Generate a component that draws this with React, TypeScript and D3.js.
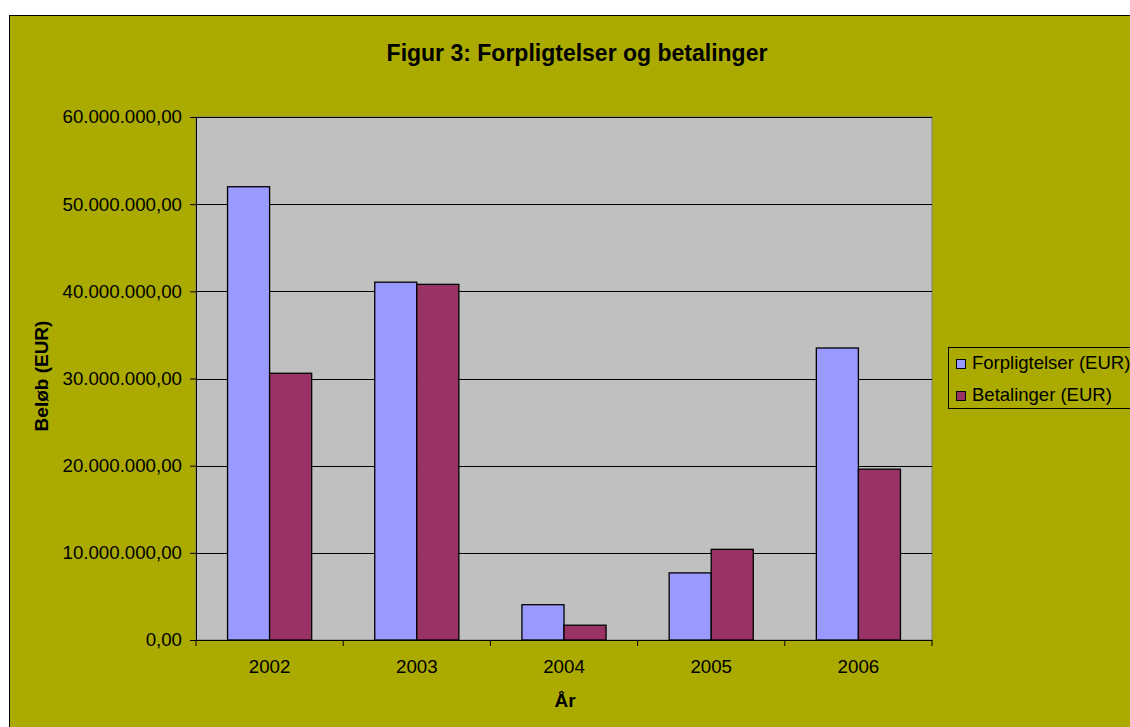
import React, { useEffect, useRef } from 'react';
import * as d3 from 'd3';

const years = ['2002', '2003', '2004', '2005', '2006'];
const forpligtelser = [52000000, 41050000, 4050000, 7700000, 33500000];
const betalinger = [30600000, 40800000, 1700000, 10400000, 19600000];
const seriesNames = ['Forpligtelser (EUR)', 'Betalinger (EUR)'];
const seriesColors = ['#9999FF', '#993366'];
const yTicks = [0, 10000000, 20000000, 30000000, 40000000, 50000000, 60000000];

const W = 1130;
const H = 727;

function fmt(v: number) {
  // 60.000.000,00 style
  const s = Math.round(v).toString().replace(/\B(?=(\d{3})+(?!\d))/g, '.');
  return s + ',00';
}

export default function App() {
  const ref = useRef<SVGSVGElement>(null);

  useEffect(() => {
    const svg = d3.select(ref.current);
    svg.selectAll('*').remove();
    const font = 'Liberation Sans, Arial, sans-serif';

    // chart area background
    svg.append('rect')
      .attr('x', 9.5).attr('y', 15.5)
      .attr('width', W).attr('height', H)
      .attr('fill', '#AAAA00')
      .attr('stroke', '#000').attr('stroke-width', 1);

    const left = 196, right = 932, top = 117, bottom = 640;

    const x = d3.scaleBand().domain(years).range([left, right]).paddingInner(0).paddingOuter(0);
    const y = d3.scaleLinear().domain([0, 60000000]).range([bottom, top]);

    // plot area
    svg.append('rect')
      .attr('x', left).attr('y', top)
      .attr('width', right - left).attr('height', bottom - top)
      .attr('fill', '#C0C0C0')
      .attr('stroke', '#808080').attr('stroke-width', 1);

    // gridlines
    svg.append('g').selectAll('line')
      .data(yTicks.slice(1))
      .enter().append('line')
      .attr('x1', left).attr('x2', right)
      .attr('y1', d => Math.round(y(d)) + 0.5).attr('y2', d => Math.round(y(d)) + 0.5)
      .attr('stroke', '#000').attr('stroke-width', 1);

    // bars
    const bw = x.bandwidth() / 3.5;
    const groups = years.map((yr, i) => ({ yr, vals: [forpligtelser[i], betalinger[i]] }));
    const g = svg.append('g');
    groups.forEach(d => {
      const x0 = (x(d.yr) as number) + (x.bandwidth() - 2 * bw) / 2;
      d.vals.forEach((v, j) => {
        g.append('rect')
          .attr('x', x0 + j * bw).attr('y', y(v))
          .attr('width', bw).attr('height', bottom - y(v))
          .attr('fill', seriesColors[j])
          .attr('stroke', '#000').attr('stroke-width', 1.3);
      });
    });

    // y axis
    const yAxis = svg.append('g')
      .attr('transform', `translate(${left},0)`)
      .call(d3.axisLeft(y).tickValues(yTicks).tickFormat(d => fmt(+d)).tickSize(6).tickPadding(8));
    yAxis.select('.domain').attr('stroke', '#000');
    yAxis.selectAll('text').attr('font-family', font).attr('font-size', 18.7).attr('fill', '#000');

    // x axis
    const xAxis = svg.append('g')
      .attr('transform', `translate(0,${bottom})`)
      .call(d3.axisBottom(x).tickSize(0).tickPadding(20));
    xAxis.select('.domain').attr('stroke', '#000');
    xAxis.selectAll('text').attr('font-family', font).attr('font-size', 18.7).attr('fill', '#000');
    xAxis.append('g').selectAll('line')
      .data([...years.map(d => x(d) as number), right])
      .enter().append('line')
      .attr('x1', d => d).attr('x2', d => d)
      .attr('y1', 0).attr('y2', 6)
      .attr('stroke', '#000');

    // title
    svg.append('text')
      .attr('x', 577).attr('y', 61)
      .attr('text-anchor', 'middle')
      .attr('font-family', font).attr('font-size', 23).attr('font-weight', 'bold')
      .text('Figur 3: Forpligtelser og betalinger');

    // axis titles
    svg.append('text')
      .attr('x', 565).attr('y', 707)
      .attr('text-anchor', 'middle')
      .attr('font-family', font).attr('font-size', 19).attr('font-weight', 'bold')
      .text('År');
    svg.append('text')
      .attr('transform', 'translate(48,376) rotate(-90)')
      .attr('text-anchor', 'middle')
      .attr('font-family', font).attr('font-size', 19).attr('font-weight', 'bold')
      .text('Beløb (EUR)');

    // legend
    const lg = svg.append('g');
    lg.append('rect')
      .attr('x', 948.5).attr('y', 347.5)
      .attr('width', 200).attr('height', 61)
      .attr('fill', 'none').attr('stroke', '#000');
    seriesNames.forEach((n, i) => {
      const base = 369 + i * 32;
      lg.append('rect')
        .attr('x', 956.5).attr('y', base - 9.5)
        .attr('width', 9).attr('height', 9)
        .attr('fill', seriesColors[i]).attr('stroke', '#000');
      lg.append('text')
        .attr('x', 972).attr('y', base)
        .attr('font-family', font).attr('font-size', 18.5)
        .text(n);
    });
  }, []);

  return (
    <svg ref={ref} width={W} height={H} style={{ position: 'absolute', left: 0, top: 0, background: '#fff' }} />
  );
}
